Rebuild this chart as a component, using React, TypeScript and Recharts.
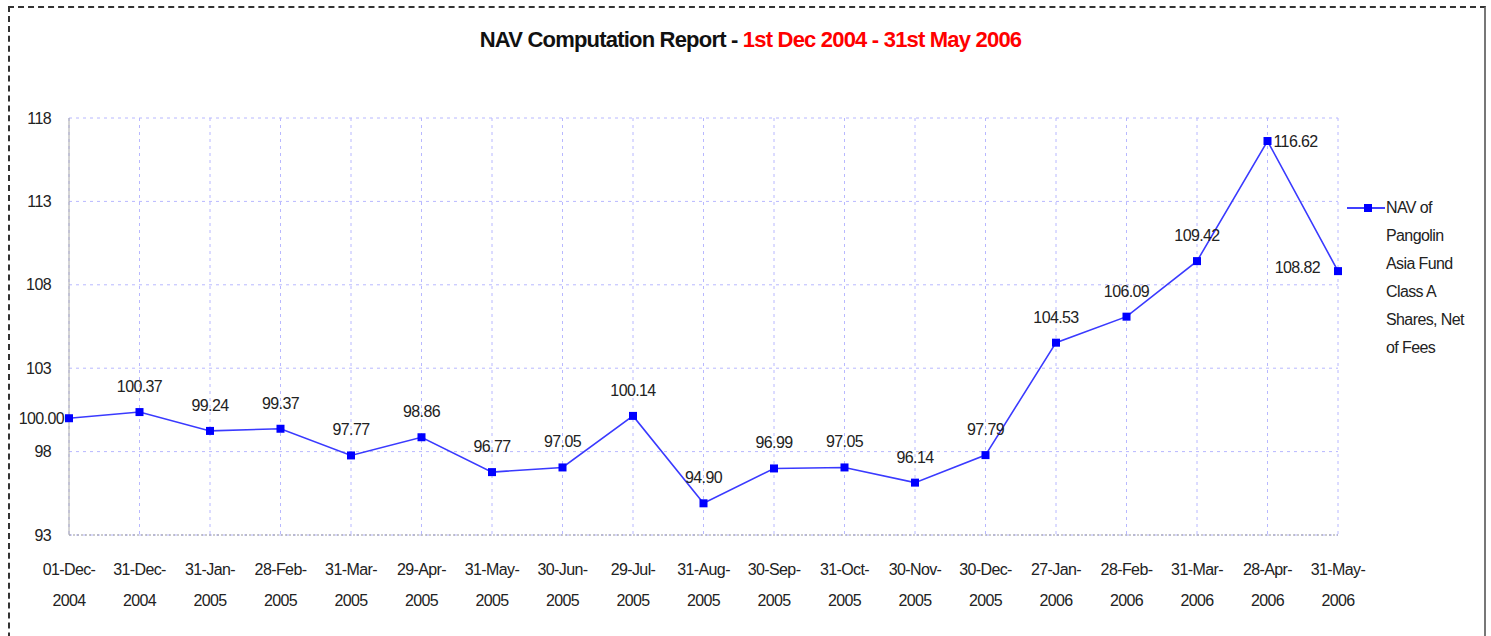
import React from "react";
import { LineChart, Line, XAxis, YAxis, CartesianGrid, LabelList } from "recharts";

const dates = [
  "01-Dec-2004", "31-Dec-2004", "31-Jan-2005", "28-Feb-2005", "31-Mar-2005",
  "29-Apr-2005", "31-May-2005", "30-Jun-2005", "29-Jul-2005", "31-Aug-2005",
  "30-Sep-2005", "31-Oct-2005", "30-Nov-2005", "30-Dec-2005", "27-Jan-2006",
  "28-Feb-2006", "31-Mar-2006", "28-Apr-2006", "31-May-2006",
];

const navValues = [
  100.0, 100.37, 99.24, 99.37, 97.77, 98.86, 96.77, 97.05, 100.14, 94.9,
  96.99, 97.05, 96.14, 97.79, 104.53, 106.09, 109.42, 116.62, 108.82,
];

const yTicks = [93, 98, 103, 108, 113, 118];

const seriesName = "NAV of Pangolin Asia Fund Class A Shares, Net of Fees";
const legendLines = ["NAV of", "Pangolin", "Asia Fund", "Class A", "Shares, Net", "of Fees"];

const chartData = dates.map((d, i) => ({ date: d, nav: navValues[i] }));

const FONT = "'Liberation Sans', Arial, sans-serif";
const BLUE = "#0000ff";
const SQUEEZE = -0.6;

// two-line date tick: "31-Dec-" / "2004"
const DateTick = (props: any) => {
  const { x, y, payload } = props;
  const parts = String(payload.value).split("-");
  return (
    <g transform={`translate(${x},${y})`}>
      <text textAnchor="middle" fontSize={16} fill="#222" fontFamily={FONT} letterSpacing={SQUEEZE}>
        <tspan x={0} dy={32}>{`${parts[0]}-${parts[1]}-`}</tspan>
        <tspan x={0} dy={31}>{parts[2]}</tspan>
      </text>
    </g>
  );
};

// value labels, mostly above the point; a few sit to the side like the original
const ValueLabel = (props: any) => {
  const { x, y, index, value } = props;
  let tx = x;
  let ty = y - 20;
  let anchor: "middle" | "start" | "end" = "middle";
  if (index === 0) {
    tx = x - 5;
    ty = y + 6;
    anchor = "end";
  } else if (index === 17) {
    tx = x + 6;
    ty = y + 6;
    anchor = "start";
  } else if (index === 18) {
    tx = x - 18;
    ty = y + 2;
    anchor = "end";
  }
  return (
    <text x={tx} y={ty} textAnchor={anchor} fontSize={16} fill="#222" fontFamily={FONT} letterSpacing={SQUEEZE}>
      {Number(value).toFixed(2)}
    </text>
  );
};

const SquareDot = (props: any) => {
  const { cx, cy } = props;
  return <rect x={cx - 4} y={cy - 4} width={8} height={8} fill={BLUE} />;
};

export default function App() {
  return (
    <div style={{ position: "fixed", left: 0, top: 0, width: 1491, height: 636, background: "#fff", overflow: "hidden" }}>
      <div
        style={{
          position: "absolute",
          left: 8,
          top: 6,
          width: 1474,
          height: 700,
          borderTop: "2px dashed #333",
          borderLeft: "2px dashed #333",
          borderRight: "2px solid #777",
        }}
      />
      <div
        style={{
          position: "absolute",
          left: 0,
          top: 27,
          width: 1491,
          textAlign: "center",
          fontFamily: FONT,
          fontWeight: "bold",
          fontSize: 22,
          letterSpacing: -0.8,
          color: "#111",
        }}
      >
        <span style={{ marginLeft: 10 }}>NAV Computation Report - </span>
        <span style={{ color: "#ff0000" }}>1st Dec 2004 - 31st May 2006</span>
      </div>
      <div style={{ position: "absolute", left: 0, top: 0 }}>
        <LineChart width={1491} height={636} data={chartData} margin={{ top: 118, right: 153, bottom: 31, left: 9 }}>
          <CartesianGrid stroke="#b8b8ff" strokeDasharray="3 4" />
          <XAxis
            dataKey="date"
            interval={0}
            tick={<DateTick />}
            tickLine={false}
            axisLine={{ stroke: "#999", strokeDasharray: "2 2" }}
            height={70}
          />
          <YAxis
            domain={[93, 118]}
            ticks={yTicks}
            interval={0}
            tickLine={false}
            axisLine={{ stroke: "#aaa" }}
            width={60}
            tick={{ fontSize: 16, fill: "#222", fontFamily: FONT, letterSpacing: SQUEEZE }}
            tickMargin={12}
          />
          <Line
            type="linear"
            dataKey="nav"
            name={seriesName}
            stroke="#3a3aff"
            strokeWidth={1.6}
            dot={<SquareDot />}
            activeDot={false}
            isAnimationActive={false}
          >
            <LabelList dataKey="nav" content={<ValueLabel />} />
          </Line>
        </LineChart>
      </div>
      <div
        style={{
          position: "absolute",
          left: 1347,
          top: 194,
          fontFamily: FONT,
          fontSize: 16,
          letterSpacing: SQUEEZE,
          color: "#222",
          lineHeight: "28px",
        }}
      >
        <svg width={40} height={20} style={{ position: "absolute", left: 0, top: 4 }}>
          <line x1={0} y1={10} x2={38} y2={10} stroke={BLUE} strokeWidth={1.5} />
          <rect x={17} y={6} width={8} height={8} fill={BLUE} />
        </svg>
        <div style={{ marginLeft: 39 }}>
          {legendLines.map((l) => (
            <div key={l}>{l}</div>
          ))}
        </div>
      </div>
    </div>
  );
}
